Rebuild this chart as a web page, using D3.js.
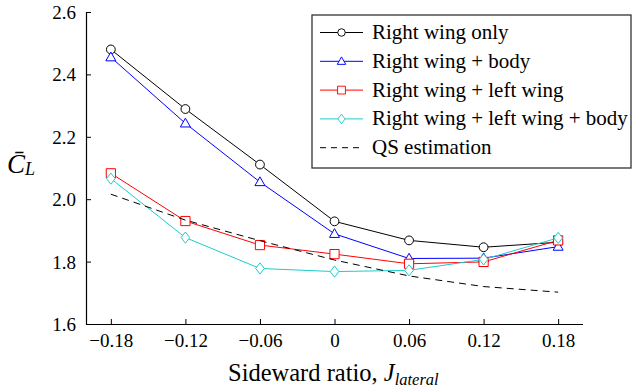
<!DOCTYPE html>
<html>
<head>
<meta charset="utf-8">
<script src="https://cdn.jsdelivr.net/npm/d3@7/dist/d3.min.js"></script>
<style>
  html, body { margin: 0; padding: 0; background: #fff; }
  svg { display: block; }
</style>
</head>
<body>
<svg id="chart" width="632" height="391"></svg>
<script>
// Sideward ratio J_lateral and mean lift coefficient for each configuration
const jLateral = [-0.18, -0.12, -0.06, 0, 0.06, 0.12, 0.18];
const rightWingOnly = [2.480, 2.289, 2.111, 1.929, 1.868, 1.846, 1.862];
const rightWingBody = [2.455, 2.243, 2.055, 1.889, 1.810, 1.811, 1.848];
const rightLeftWing = [2.083, 1.930, 1.853, 1.824, 1.793, 1.799, 1.868];
const rightLeftWingBody = [2.066, 1.877, 1.778, 1.768, 1.772, 1.807, 1.876];
const qsEstimation = [2.016, 1.933, 1.867, 1.805, 1.754, 1.720, 1.702];

const seriesNames = ["Right wing only", "Right wing + body", "Right wing + left wing",
                     "Right wing + left wing + body", "QS estimation"];
const xTicks = [-0.18, -0.12, -0.06, 0, 0.06, 0.12, 0.18];
const yTicks = [1.6, 1.8, 2.0, 2.2, 2.4, 2.6];

const FONT = '"Liberation Serif"';

const series = [
  { name: seriesNames[0], values: rightWingOnly, color: "#000000", marker: "circle" },
  { name: seriesNames[1], values: rightWingBody, color: "#0000ff", marker: "triangle" },
  { name: seriesNames[2], values: rightLeftWing, color: "#ff0000", marker: "square" },
  { name: seriesNames[3], values: rightLeftWingBody, color: "#1fcccc", marker: "diamond" },
  { name: seriesNames[4], values: qsEstimation, color: "#000000", marker: null, dash: "7,5" }
];

const svg = d3.select("#chart");
const x = d3.scaleLinear().domain([-0.2, 0.2]).range([86, 583]);
const y = d3.scaleLinear().domain([1.6, 2.6]).range([324, 12]);

// marker shapes, centred on the data point
function markerPath(kind) {
  switch (kind) {
    case "circle": return d3.arc()({ innerRadius: 0, outerRadius: 4.4, startAngle: 0, endAngle: 2 * Math.PI });
    case "triangle": return "M0,-5.2L5,3.6L-5,3.6Z";
    case "square": return "M-4.6,-4.6H4.6V4.6H-4.6Z";
    case "diamond": return "M0,-5.6L4.3,0L0,5.6L-4.3,0Z";
  }
  return null;
}

// axes: left and bottom spines with inward ticks
const xAxis = d3.axisBottom(x).tickValues(xTicks).tickSize(-5).tickPadding(10)
  .tickFormat(d => d === 0 ? "0" : (d < 0 ? "\u2212" : "") + Math.abs(d).toFixed(2));
const yAxis = d3.axisLeft(y).tickValues(yTicks).tickSize(-5).tickPadding(10)
  .tickFormat(d => d.toFixed(1));

const gx = svg.append("g").attr("transform", "translate(0,324)").call(xAxis);
const gy = svg.append("g").attr("transform", "translate(86,0)").call(yAxis);
gx.select(".domain").attr("d", "M86,0.5H583");
gy.select(".domain").attr("d", "M0.5,12V324.5");
[gx, gy].forEach(g => {
  g.attr("font-family", null).attr("font-size", null);
  g.select(".domain").attr("stroke", "#000").attr("stroke-width", 1.2);
  g.selectAll(".tick line").attr("stroke", "#000").attr("stroke-width", 1);
  g.selectAll(".tick text").style("font-family", FONT).style("font-size", "19px").attr("fill", "#000");
});
gx.selectAll(".tick text").attr("y", 10).attr("dy", "0.71em");
gy.selectAll(".tick text").attr("x", -10).attr("dy", "0.34em");

// series lines and markers
const line = d3.line().x((d, i) => x(jLateral[i])).y(d => y(d));
series.forEach(s => {
  const g = svg.append("g");
  g.append("path").datum(s.values).attr("d", line)
    .attr("fill", "none").attr("stroke", s.color).attr("stroke-width", 1)
    .attr("stroke-dasharray", s.dash || null);
  if (s.marker) {
    g.selectAll("path.m").data(s.values).enter().append("path").attr("class", "m")
      .attr("d", markerPath(s.marker))
      .attr("transform", (d, i) => `translate(${x(jLateral[i])},${y(d)})`)
      .attr("fill", "#fff").attr("stroke", s.color).attr("stroke-width", 1);
  }
});

// legend
const legend = svg.append("g");
legend.append("rect").attr("x", 312).attr("y", 15).attr("width", 319).attr("height", 153)
  .attr("fill", "#fff").attr("stroke", "#333").attr("stroke-width", 1.3);
series.forEach((s, i) => {
  const cy = 32.5 + i * 28.8;
  legend.append("line").attr("x1", 320).attr("x2", 363).attr("y1", cy).attr("y2", cy)
    .attr("stroke", s.color).attr("stroke-width", 1)
    .attr("stroke-dasharray", s.dash ? "6,5" : null);
  if (s.marker) {
    legend.append("path").attr("d", markerPath(s.marker))
      .attr("transform", `translate(341.5,${cy}) scale(0.85)`)
      .attr("fill", "#fff").attr("stroke", s.color).attr("stroke-width", 1.1);
  }
  legend.append("text").attr("x", 372).attr("y", cy + 6.5)
    .style("font-family", FONT).style("font-size", "21px").text(s.name);
});

// axis titles
const yl = svg.append("text").attr("x", 7).attr("y", 173)
  .style("font-family", FONT).style("font-size", "27px");
yl.append("tspan").style("font-style", "italic").text("C\u0304");
yl.append("tspan").style("font-style", "italic").style("font-size", "18px").attr("dy", 2).text("L");

const xl = svg.append("text").attr("x", 228).attr("y", 381)
  .style("font-family", FONT).style("font-size", "24.5px");
xl.append("tspan").text("Sideward ratio, ");
xl.append("tspan").style("font-style", "italic").text("J");
xl.append("tspan").style("font-style", "italic").style("font-size", "16.5px").attr("dy", 4).text("lateral");
</script>
</body>
</html>
